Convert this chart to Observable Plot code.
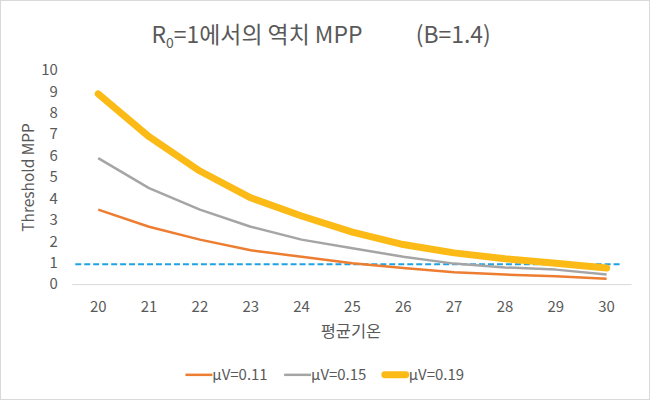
<!DOCTYPE html>
<html>
<head>
<meta charset="utf-8">
<script src="https://cdn.jsdelivr.net/npm/d3@7"></script>
<script src="https://cdn.jsdelivr.net/npm/@observablehq/plot@0.6"></script>
<style>
  html, body { margin: 0; padding: 0; background: #fff; }
  #chart { position: relative; width: 648px; height: 398px; border: 1px solid #d9d9d9; overflow: hidden; }
  #chart svg { position: absolute; left: -1px; top: -1px; }
</style>
</head>
<body>
<div id="chart"></div>
<script>
// ---- data ----
const temps = [20, 21, 22, 23, 24, 25, 26, 27, 28, 29, 30];
const mu011 = [3.5, 2.7, 2.1, 1.6, 1.3, 1.0, 0.78, 0.58, 0.47, 0.39, 0.27];
const mu015 = [5.9, 4.5, 3.5, 2.7, 2.1, 1.7, 1.3, 0.98, 0.8, 0.7, 0.47];
const mu019 = [8.9, 6.9, 5.3, 4.05, 3.2, 2.45, 1.87, 1.48, 1.21, 1.0, 0.78];
const seriesNames = ["μV=0.11", "μV=0.15", "μV=0.19"];
const seriesColors = ["#ED7D31", "#A5A5A5", "#FBBA16"];
const seriesWidths = [2.5, 2.5, 7];
const thresholdValue = 1;
const yTicks = [0, 1, 2, 3, 4, 5, 6, 7, 8, 9, 10];
const titleMain = "=1에서의 역치 MPP";
const titleSide = "(B=1.4)";
const xLabel = "평균기온";
const yLabel = "Threshold MPP";

const seriesValues = [mu011, mu015, mu019];
const rows = [];
seriesValues.forEach((vals, s) => vals.forEach((v, i) => rows.push({t: temps[i], v, s: seriesNames[s]})));

const font = "'Noto Sans CJK KR', 'Open Sans', sans-serif";
const textColor = "#595959";

const marks = [
  Plot.ruleY([0], {stroke: "#d9d9d9", strokeWidth: 1}),
  Plot.ruleY([thresholdValue], {stroke: "#1FA2E3", strokeWidth: 2, strokeDasharray: "6,3", insetLeft: 3, insetRight: 10, dy: 1})
];
seriesNames.forEach((name, s) => {
  marks.push(Plot.line(rows.filter(d => d.s === name), {
    x: "t", y: "v", stroke: seriesColors[s], strokeWidth: seriesWidths[s],
    strokeLinejoin: "round", strokeLinecap: s === 2 ? "round" : "butt"
  }));
});

const plot = Plot.plot({
  width: 650, height: 400,
  marginTop: 70, marginBottom: 115, marginLeft: 72.5, marginRight: 16.5,
  style: {fontFamily: font, fontSize: "15px", color: textColor, background: "transparent"},
  x: {domain: [19.5, 30.5], ticks: temps, tickFormat: d => String(d), tickSize: 0, tickPadding: 17, label: null},
  y: {domain: [0, 10], ticks: yTicks, tickFormat: d => String(d), tickSize: 0, tickPadding: 15, label: null},
  marks
});
document.getElementById("chart").appendChild(plot);

const svg = d3.select(plot);
function addText(x, y, size, str) {
  return svg.append("text").attr("x", x).attr("y", y).attr("text-anchor", "start")
    .attr("font-family", font).attr("font-size", size).attr("fill", textColor).text(str);
}
// title
const t = addText(152, 43, 23, null);
t.append("tspan").text("R");
t.append("tspan").attr("font-size", 14).attr("dy", 5).text("0");
t.append("tspan").attr("dy", -5).text(titleMain);
addText(417, 43, 23, titleSide);
// axis titles
addText(352, 338, 16.5, xLabel).attr("text-anchor", "middle");
svg.append("text").attr("transform", "translate(34,178) rotate(-90)").attr("text-anchor", "middle")
  .attr("font-family", font).attr("font-size", 15.5).attr("fill", textColor).text(yLabel);
// legend
const legX = [186, 285, 383];
seriesNames.forEach((name, s) => {
  const x0 = legX[s];
  svg.append("line").attr("x1", x0 + (s === 2 ? 3 : 0)).attr("x2", x0 + 27 - (s === 2 ? 3 : 0)).attr("y1", 376).attr("y2", 376)
    .attr("stroke", seriesColors[s]).attr("stroke-width", seriesWidths[s]).attr("stroke-linecap", s === 2 ? "round" : "butt");
  addText(x0 + 27, 381, 15, name);
});
</script>
</body>
</html>
